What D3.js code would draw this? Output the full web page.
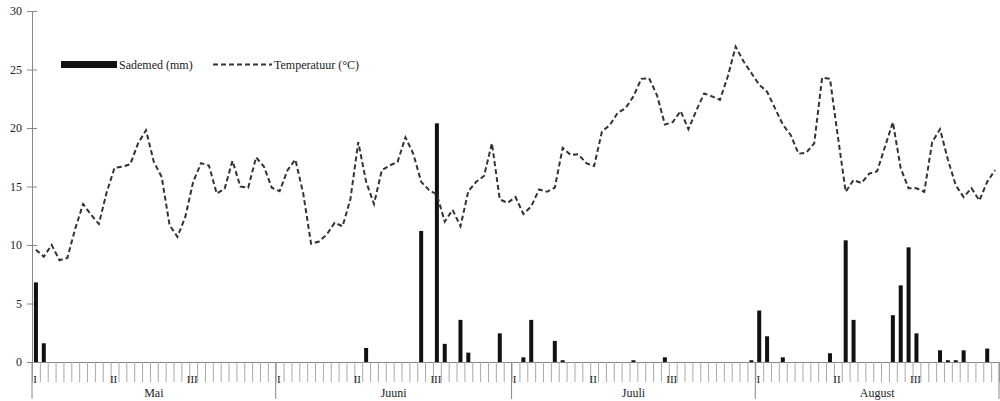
<!DOCTYPE html>
<html>
<head>
    <script src="https://cdnjs.cloudflare.com/ajax/libs/d3/7.8.5/d3.min.js"></script>
    <style>
        body {
            margin: 0;
            background: #fff;
        }
        svg text {
            font-family: "Liberation Serif", "Times New Roman", serif;
            fill: #222;
        }
    </style>
</head>
<body>
    <svg id="chart" width="1000" height="401"></svg>

    <script>
        const months = ["Mai", "Juuni", "Juuli", "August"];
        const monthDays = [31, 30, 31, 31];
        const decades = ["I", "II", "III"];
        const decadeStart = [1, 11, 21];
        const yTicks = [0, 5, 10, 15, 20, 25, 30];

        // daily mean temperature (°C), one value per day
        const tempMai = [9.6, 9.0, 10.0, 8.7, 8.9, 11.4, 13.5, 12.6, 11.8, 14.5,
            16.6, 16.7, 16.9, 18.7, 19.8, 17.1, 15.8, 11.7, 10.7, 12.4,
            15.4, 17.0, 16.8, 14.4, 14.8, 17.2, 15.0, 14.9, 17.5, 16.7, 14.9];
        const tempJuuni = [14.6, 16.4, 17.3, 14.4, 10.1, 10.3, 10.9, 11.9, 11.6, 13.9,
            18.8, 15.4, 13.5, 16.4, 16.8, 17.1, 19.2, 17.8, 15.4, 14.7,
            14.3, 12.0, 13.0, 11.6, 14.6, 15.4, 15.9, 18.7, 13.9, 13.6];
        const tempJuuli = [14.1, 12.65, 13.3, 14.75, 14.55, 14.9, 18.3, 17.7, 17.75, 17.0,
            16.75, 19.7, 20.25, 21.3, 21.7, 22.7, 24.2, 24.25, 22.8, 20.3,
            20.5, 21.45, 19.9, 21.5, 22.95, 22.7, 22.4, 24.4, 26.95, 25.7, 24.7];
        const tempAugust = [23.7, 23.1, 21.7, 20.3, 19.4, 17.8, 17.9, 18.7, 24.3, 24.2,
            19.3, 14.55, 15.55, 15.3, 16.1, 16.3, 18.4, 20.5, 16.55, 14.85,
            14.85, 14.55, 18.8, 19.9, 17.3, 15.1, 14.1, 14.85, 13.8, 15.4, 16.4];

        // daily precipitation (mm)
        const rainMai = [6.8, 1.6, 0, 0, 0, 0, 0, 0, 0, 0,
            0, 0, 0, 0, 0, 0, 0, 0, 0, 0,
            0, 0, 0, 0, 0, 0, 0, 0, 0, 0, 0];
        const rainJuuni = [0, 0, 0, 0, 0, 0, 0, 0, 0, 0,
            0, 1.2, 0, 0, 0, 0, 0, 0, 11.2, 0,
            20.4, 1.55, 0, 3.6, 0.8, 0, 0, 0, 2.45, 0];
        const rainJuuli = [0, 0.4, 3.6, 0, 0, 1.8, 0.15, 0, 0, 0,
            0, 0, 0, 0, 0, 0.15, 0, 0, 0, 0.4,
            0, 0, 0, 0, 0, 0, 0, 0, 0, 0, 0.15];
        const rainAugust = [4.4, 2.2, 0, 0.4, 0, 0, 0, 0, 0, 0.75,
            0, 10.4, 3.6, 0, 0, 0, 0, 4.0, 6.55, 9.8,
            2.45, 0, 0, 1.0, 0.15, 0.15, 1.0, 0, 0, 1.15, 0];

        const temp = [].concat(tempMai, tempJuuni, tempJuuli, tempAugust);
        const rain = [].concat(rainMai, rainJuuni, rainJuuli, rainAugust);
        const nDays = d3.sum(monthDays);

        const svg = d3.select("#chart");
        const plotLeft = 32, plotRight = 999, plotTop = 11, plotBottom = 362;

        const x = d3.scaleLinear().domain([0, nDays]).range([plotLeft, plotRight]);
        const y = d3.scaleLinear().domain([0, 30]).range([plotBottom, plotTop]);

        // month boundaries (cumulative day counts)
        const monthStart = [0];
        monthDays.forEach((n, i) => monthStart.push(monthStart[i] + n));

        // y axis
        const yAxis = svg.append("g")
            .attr("transform", `translate(${plotLeft},0)`)
            .call(d3.axisLeft(y).tickValues(yTicks).tickSizeInner(5).tickSizeOuter(0).tickPadding(5));
        yAxis.select(".domain").attr("stroke", "#888");
        yAxis.selectAll(".tick line").attr("x1", 5).attr("stroke", "#888");
        yAxis.selectAll(".tick text")
            .style("font-size", "12px")
            .attr("fill", "#222");

        // x axis: one tick per day boundary
        const xAxis = svg.append("g")
            .attr("transform", `translate(0,${plotBottom})`)
            .call(d3.axisBottom(x).tickValues(d3.range(0, nDays + 1)).tickSize(20).tickSizeOuter(0).tickFormat(""));
        xAxis.select(".domain").attr("stroke", "#888");
        xAxis.selectAll(".tick line").attr("stroke", "#aaa");

        // longer lines between months
        svg.append("g").selectAll("line")
            .data(monthStart)
            .join("line")
            .attr("x1", d => x(d)).attr("x2", d => x(d))
            .attr("y1", plotBottom).attr("y2", plotBottom + 37)
            .attr("stroke", "#888");

        // decade labels I, II, III
        const decadeData = [];
        monthStart.slice(0, -1).forEach(ms => {
            decades.forEach((lab, j) => decadeData.push({ day: ms + decadeStart[j] - 1, lab }));
        });
        svg.append("g").selectAll("text")
            .data(decadeData)
            .join("text")
            .attr("x", d => x(d.day) + 3)
            .attr("y", plotBottom + 21)
            .attr("text-anchor", "middle")
            .style("font-size", "11px")
            .text(d => d.lab);

        // month labels
        svg.append("g").selectAll("text")
            .data(months)
            .join("text")
            .attr("x", (d, i) => (x(monthStart[i]) + x(monthStart[i + 1])) / 2)
            .attr("y", plotBottom + 35)
            .attr("text-anchor", "middle")
            .style("font-size", "12px")
            .text(d => d);

        // precipitation bars
        const barW = 4;
        svg.append("g").selectAll("rect")
            .data(rain.map((v, i) => ({ i, v })).filter(d => d.v > 0))
            .join("rect")
            .attr("x", d => x(d.i + 0.5) - barW / 2)
            .attr("y", d => y(d.v))
            .attr("width", barW)
            .attr("height", d => y(0) - y(d.v))
            .attr("fill", "#111");

        // temperature line
        const line = d3.line()
            .x((d, i) => x(i + 0.5))
            .y(d => y(d));
        svg.append("path")
            .datum(temp)
            .attr("d", line)
            .attr("fill", "none")
            .attr("stroke", "#333")
            .attr("stroke-width", 2)
            .attr("stroke-dasharray", "5,3");

        // legend
        const legend = svg.append("g");
        legend.append("rect")
            .attr("x", 61).attr("y", 61)
            .attr("width", 56).attr("height", 7)
            .attr("fill", "#111");
        legend.append("text")
            .attr("x", 119).attr("y", 69)
            .style("font-size", "12px")
            .text("Sademed (mm)");
        legend.append("line")
            .attr("x1", 213).attr("x2", 272)
            .attr("y1", 64.5).attr("y2", 64.5)
            .attr("stroke", "#333")
            .attr("stroke-width", 2)
            .attr("stroke-dasharray", "5,3");
        legend.append("text")
            .attr("x", 274).attr("y", 69)
            .style("font-size", "12px")
            .text("Temperatuur (°C)");
    </script>
</body>
</html>
